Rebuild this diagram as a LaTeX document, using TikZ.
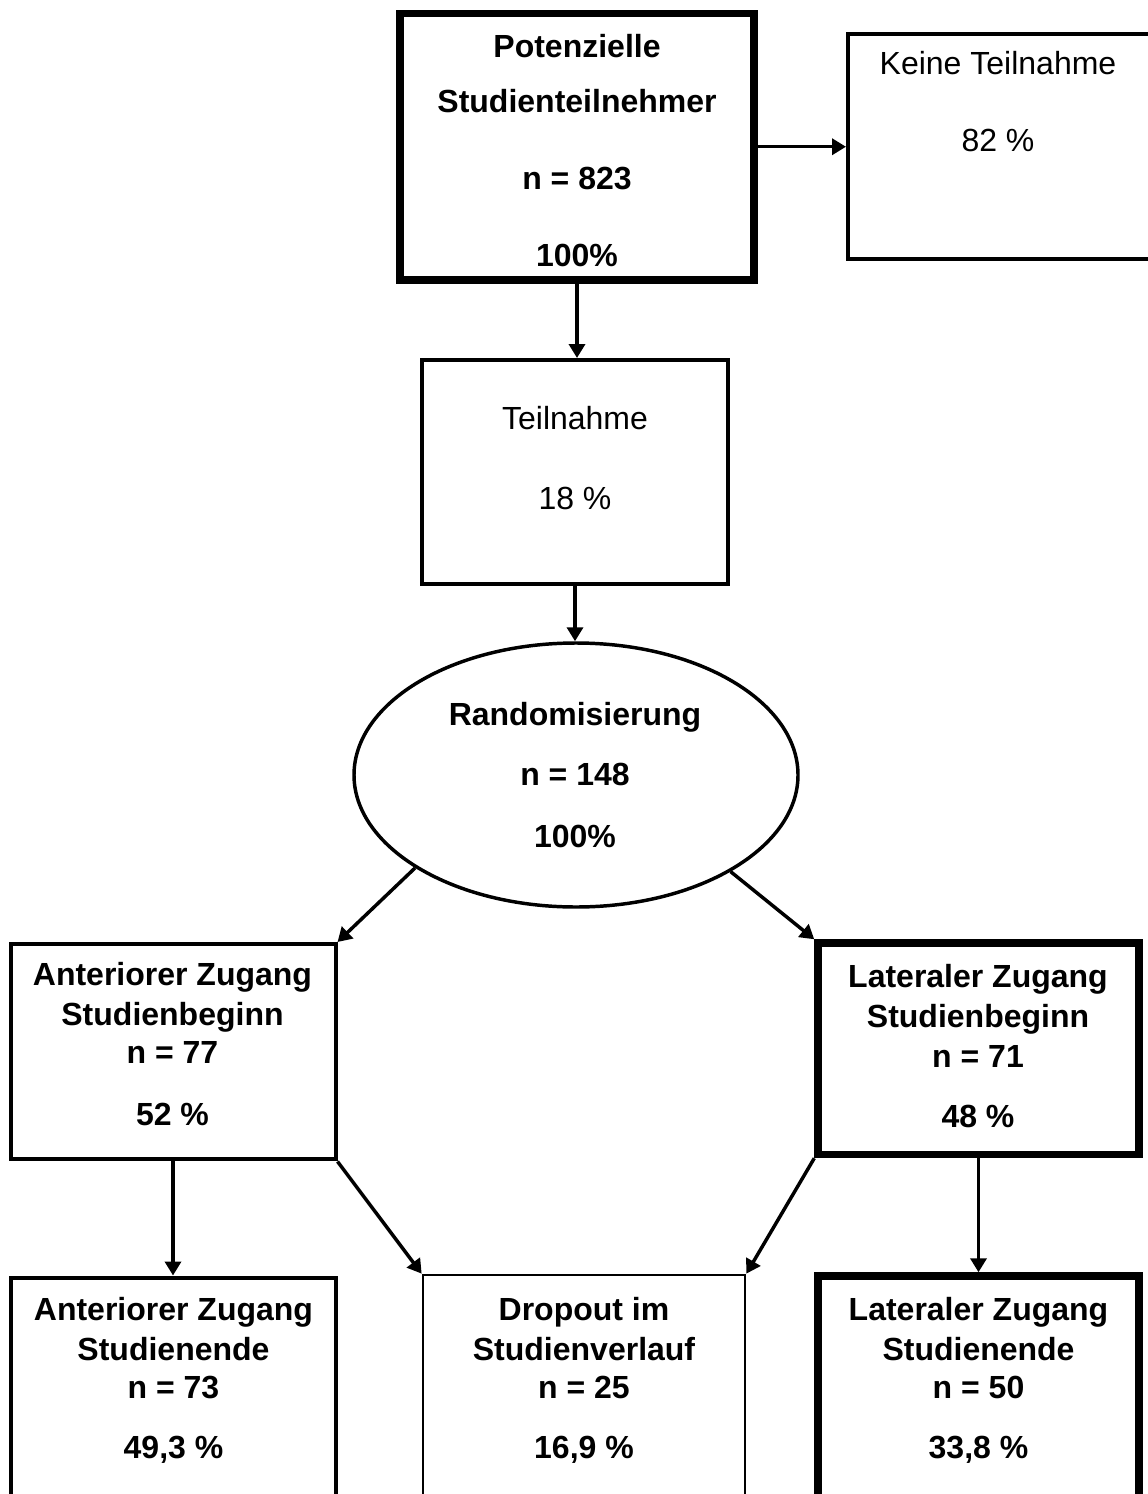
\documentclass[tikz,border=0pt]{standalone}
\usepackage{fontspec}
\setmainfont{Liberation Sans}
\usetikzlibrary{shapes.geometric,arrows.meta}

\begin{document}
\begin{tikzpicture}[x=0.75pt, y=-0.75pt,
  thinbox/.style={draw, rectangle, line width=3pt, inner sep=0pt},
  boldbox/.style={draw, rectangle, line width=5.6pt, inner sep=0pt},
  txt/.style={anchor=base, inner sep=0pt, font=\fontsize{24}{28}\selectfont},
  txtb/.style={txt, font=\fontsize{24}{28}\selectfont\bfseries},
  arr/.style={line width=2.6pt, -{Triangle[length=10.5pt,width=12pt]}}]
\useasboundingbox (0,0) rectangle (1148,1494);
\clip (0,0) rectangle (1148,1494);
% boxes
\node[boldbox, minimum width=265.5pt, minimum height=199.9pt] (pot) at (577,146.75) {};
\node[thinbox, minimum width=228pt, minimum height=168.5pt] (keine) at (1000,146.4) {};
\node[thinbox, minimum width=229.5pt, minimum height=168pt] (teil) at (575,472) {};
\node[draw, ellipse, line width=2.6pt, inner sep=0pt, minimum width=333pt,
      minimum height=198pt] (rand) at (576,775) {};
\node[thinbox, minimum width=243.75pt, minimum height=161.6pt] (antbeg) at (173,1051.75) {};
\node[boldbox, minimum width=240.75pt, minimum height=158.6pt] (latbeg) at (978.5,1048.75) {};
\node[thinbox, minimum width=243.75pt, minimum height=172.5pt] (antend) at (173.5,1392.5) {};
\node[thinbox, line width=2pt, minimum width=241.5pt, minimum height=172.5pt] (drop) at (584,1390) {};
\node[boldbox, minimum width=240.75pt, minimum height=172.5pt] (latend) at (978.5,1391) {};
% texts
\node[txtb] (pot1) at (577,58) {Potenzielle};
\node[txtb] (pot2) at (577,113) {Studienteilnehmer};
\node[txtb] (pot3) at (577,190) {n = 823};
\node[txtb] (pot4) at (577,267) {100\%};
\node[txt] (keine1) at (998,75) {Keine Teilnahme};
\node[txt] (keine2) at (998,152) {82 \%};
\node[txt] (teil1) at (575,429) {Teilnahme};
\node[txt] (teil2) at (575,509) {18 \%};
\node[txtb] (rand1) at (575,725) {Randomisierung};
\node[txtb] (rand2) at (575,785) {n = 148};
\node[txtb] (rand3) at (575,847) {100\%};
\node[txtb] (antbeg1) at (172.5,985) {Anteriorer Zugang};
\node[txtb] (antbeg2) at (172.5,1025) {Studienbeginn};
\node[txtb] (antbeg3) at (172.5,1063) {n = 77};
\node[txtb] (antbeg4) at (172.5,1125) {52 \%};
\node[txtb] (latbeg1) at (978,987) {Lateraler Zugang};
\node[txtb] (latbeg2) at (978,1027) {Studienbeginn};
\node[txtb] (latbeg3) at (978,1067) {n = 71};
\node[txtb] (latbeg4) at (978,1127) {48 \%};
\node[txtb] (antend1) at (173.5,1320) {Anteriorer Zugang};
\node[txtb] (antend2) at (173.5,1360) {Studienende};
\node[txtb] (antend3) at (173.5,1398) {n = 73};
\node[txtb] (antend4) at (173.5,1458) {49,3 \%};
\node[txtb] (drop1) at (584,1320) {Dropout im};
\node[txtb] (drop2) at (584,1360) {Studienverlauf};
\node[txtb] (drop3) at (584,1398) {n = 25};
\node[txtb] (drop4) at (584,1458) {16,9 \%};
\node[txtb] (latend1) at (978.5,1320) {Lateraler Zugang};
\node[txtb] (latend2) at (978.5,1360) {Studienende};
\node[txtb] (latend3) at (978.5,1398) {n = 50};
\node[txtb] (latend4) at (978.5,1458) {33,8 \%};
% arrows
\draw[arr] (pot.east) -- (pot.east -| keine.west);
\draw[arr] (pot.south) -- (pot.south |- teil.north);
\draw[arr] (teil.south) -- (teil.south |- rand.north);
\draw[arr] (rand.210.7) -- (antbeg.north east);
\draw[arr] (rand.328) -- (latbeg.north west);
\draw[arr] (antbeg.south) -- (antbeg.south |- antend.north);
\draw[arr] (latbeg.south) -- (latbeg.south |- latend.north);
\draw[arr] (antbeg.south east) -- (drop.north west);
\draw[arr] (latbeg.south west) -- (drop.north east);
\end{tikzpicture}
\end{document}
